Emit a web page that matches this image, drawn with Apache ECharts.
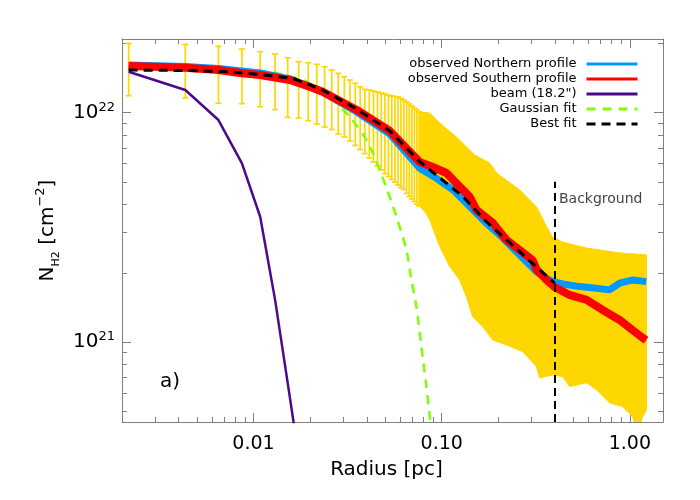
<!DOCTYPE html>
<html><head><meta charset="utf-8">
<script src="https://cdn.jsdelivr.net/npm/echarts@6/dist/echarts.min.js"></script>
<style>html,body{margin:0;padding:0;background:#fff}#c{width:700px;height:500px}</style>
</head><body><div id="c"></div>
<script>
// ---------------- data (radius in pc, column density in cm^-2) ----------------
const xRange = [0.002, 1.5];
const yRange = [4.49e20, 2.095e22];
const xMajorTicks = [0.01, 0.1, 1];
const xTickLabels = ['0.01', '0.10', '1.00'];
const xMinorTicks = [0.003,0.004,0.005,0.006,0.007,0.008,0.009,0.02,0.03,0.04,0.05,0.06,0.07,0.08,0.09,0.2,0.3,0.4,0.5,0.6,0.7,0.8,0.9];
const yMajorTicks = [1e21, 1e22];
const yTickExponents = ['21', '22'];
const yMinorTicks = [5e20,6e20,7e20,8e20,9e20,2e21,3e21,4e21,5e21,6e21,7e21,8e21,9e21,2e22];

// individual error bars (inner radii)
const barRadius = [0.00217,0.00434,0.00651,0.00868,0.01085,0.01302,0.01519,0.01736,0.01953,0.0217,0.02387,0.02604,0.02821,0.03038,0.03255,0.03472,0.03689,0.03906,0.04123,0.0434,0.04557,0.04774,0.04991,0.05208,0.05425,0.05642,0.05859,0.06076,0.06293,0.0651,0.06727,0.06944,0.07161,0.07378,0.07595];
const barHigh = [2.005e22,1.986e22,1.947e22,1.895e22,1.844e22,1.802e22,1.736e22,1.668e22,1.651e22,1.625e22,1.586e22,1.535e22,1.485e22,1.435e22,1.388e22,1.343e22,1.298e22,1.264e22,1.256e22,1.243e22,1.231e22,1.218e22,1.206e22,1.194e22,1.182e22,1.176e22,1.171e22,1.153e22,1.136e22,1.113e22,1.091e22,1.069e22,1.048e22,1.028e22,1.007e22];
const barLow = [1.186e22,1.162e22,1.099e22,1.095e22,1.062e22,1.031e22,9.55e21,9.48e21,9.23e21,8.93e21,8.66e21,8.45e21,8.08e21,7.84e21,7.53e21,7.20e21,6.91e21,6.64e21,6.35e21,6.10e21,5.86e21,5.63e21,5.43e21,5.27e21,5.12e21,4.99e21,4.84e21,4.72e21,4.63e21,4.45e21,4.32e21,4.21e21,4.10e21,4.00e21,3.92e21];

// dense error bars (outer radii) merge into a band
const bandUpR = [0.0760,0.0864,0.0976,0.1197,0.1497,0.1798,0.1959,0.2596,0.3196,0.3611,0.3886,0.4392,0.5888,0.8816,1.2264];
const bandUpN = [1.007e22,9.97e21,9.02e21,7.84e21,6.54e21,6.04e21,5.46e21,4.61e21,3.88e21,3.18e21,2.87e21,2.73e21,2.57e21,2.45e21,2.40e21];
const bandLoR = [0.0760,0.0812,0.0864,0.0918,0.0976,0.1037,0.1103,0.1246,0.1353,0.1461,0.1651,0.1866,0.2206,0.2693,0.3184,0.3315,0.3886,0.4392,0.4785,0.5888,0.6658,0.7803,0.9148,1.0335,1.099,1.168,1.2264];
const bandLoN = [3.92e21,3.71e21,3.41e21,2.98e21,2.61e21,2.36e21,2.135e21,1.867e21,1.579e21,1.293e21,1.169e21,1.023e21,9.73e20,9.10e20,7.83e20,6.99e20,7.20e20,7.08e20,6.41e20,6.65e20,6.20e20,5.44e20,5.24e20,4.74e20,4.0e20,4.74e20,5.07e20];

const northR = [0.00217,0.00434,0.00651,0.01085,0.0156,0.0233,0.0354,0.053,0.0764,0.0937,0.1148,0.1408,0.1727,0.2117,0.2596,0.3184,0.3585,0.390,0.4407,0.5406,0.6632,0.780,0.8816,1.037,1.222];
const northN = [1.614e22,1.589e22,1.558e22,1.489e22,1.402e22,1.231e22,1.007e22,8.07e21,5.73e21,5.18e21,4.61e21,3.90e21,3.30e21,2.84e21,2.40e21,2.03e21,1.90e21,1.836e21,1.794e21,1.747e21,1.719e21,1.690e21,1.807e21,1.868e21,1.836e21];

const southR = [0.00217,0.00434,0.00651,0.00868,0.01085,0.0156,0.0197,0.0233,0.0354,0.053,0.0764,0.0896,0.106,0.125,0.141,0.153,0.187,0.221,0.26,0.304,0.32,0.361,0.398,0.478,0.589,0.716,0.882,1.03,1.17,1.22];
const southN = [1.597e22,1.570e22,1.535e22,1.485e22,1.460e22,1.388e22,1.300e22,1.234e22,1.028e22,8.33e21,6.10e21,5.80e21,5.46e21,4.75e21,4.30e21,3.77e21,3.31e21,2.79e21,2.52e21,2.28e21,2.065e21,1.868e21,1.741e21,1.607e21,1.529e21,1.382e21,1.25e21,1.131e21,1.044e21,1.02e21];

const beamR = [0.00217,0.00434,0.00651,0.00868,0.01085,0.01302,0.01519,0.01736];
const beamN = [1.509e22,1.256e22,9.29e21,6.02e21,3.52e21,1.529e21,6.65e20,3.2e20];

const gaussR = [0.00217,0.00864,0.01325,0.01912,0.02542,0.03246,0.03982,0.04861,0.05745,0.06495,0.06903,0.07339,0.07802,0.08294,0.08742];
const gaussN = [1.558e22,1.543e22,1.485e22,1.365e22,1.171e22,9.58e21,7.61e21,5.20e21,3.52e21,2.52e21,1.868e21,1.425e21,9.54e20,6.39e20,4.36e20];

const bestR = [0.00217,0.00434,0.00721,0.01085,0.01617,0.0233,0.0354,0.053,0.0764,0.1297,0.1734,0.2596,0.398];
const bestN = [1.535e22,1.527e22,1.509e22,1.467e22,1.412e22,1.256e22,1.038e22,8.33e21,6.12e21,4.31e21,3.34e21,2.48e21,1.807e21];

const backgroundR = 0.4;
const backgroundN = [4.49e20, 5.0e21];

const names = ['observed Northern profile','observed Southern profile','beam (18.2")','Gaussian fit','Best fit'];

// ---------------- chart ----------------
const FONT = 'DejaVu Sans';
const GOLD = '#FFD700';
const AX = '#7f7f7f';
const lg = Math.log10;
const pairs = (R, N) => R.map((r, i) => [lg(r), lg(N[i])]);
const findTick = (ticks, v) => ticks.findIndex(t => Math.abs(lg(t) - v) < 1e-6);

const xMin = lg(xRange[0]), xMax = lg(xRange[1]);
const yMin = lg(yRange[0]), yMax = lg(yRange[1]);

function xAxisDef(pos, major, showLine) {
  return {
    type: 'value', position: pos, min: xMin, max: xMax,
    splitLine: {show: false},
    axisLine: {show: showLine, onZero: false, lineStyle: {color: AX, width: 1}},
    axisTick: {show: true, inside: true, length: major ? 9 : 5,
      customValues: (major ? xMajorTicks : xMinorTicks).map(lg),
      lineStyle: {color: AX, width: 1}},
    axisLabel: {show: false}
  };
}
function yAxisDef(pos, major, showLine) {
  return {
    type: 'value', position: pos, min: yMin, max: yMax,
    splitLine: {show: false},
    axisLine: {show: showLine, onZero: false, lineStyle: {color: AX, width: 1}},
    axisTick: {show: true, inside: true, length: major ? 9 : 5,
      customValues: (major ? yMajorTicks : yMinorTicks).map(lg),
      lineStyle: {color: AX, width: 1}},
    axisLabel: {show: false}
  };
}

const xA0 = xAxisDef('bottom', true, true);
xA0.axisLabel = {
  show: true, customValues: xMajorTicks.map(lg), margin: 13,
  fontFamily: FONT, fontSize: 19, color: '#000',
  formatter: (v) => { const i = findTick(xMajorTicks, v); return i >= 0 ? xTickLabels[i] : ''; }
};
xA0.name = 'Radius [pc]';
xA0.nameLocation = 'middle';
xA0.nameGap = 38;
xA0.nameMoveOverlap = false;
xA0.nameTextStyle = {fontFamily: FONT, fontSize: 20, color: '#000', padding: [0, 12, 0, 0]};

const yA0 = yAxisDef('left', true, true);
yA0.axisLabel = {
  show: true, customValues: yMajorTicks.map(lg), margin: 7,
  formatter: (v) => { const i = findTick(yMajorTicks, v); return i >= 0 ? '{b|10}{s|' + yTickExponents[i] + '}' : ''; },
  rich: {
    b: {fontFamily: FONT, fontSize: 20, color: '#000', lineHeight: 24},
    s: {fontFamily: FONT, fontSize: 13, color: '#000', lineHeight: 8, verticalAlign: 'top'}
  }
};
yA0.name = '{n|N}{sub|H2}{n| [cm}{sup|\u22122}{n|]}';
yA0.nameLocation = 'middle';
yA0.nameRotate = 90;
yA0.nameGap = 60;
yA0.nameMoveOverlap = false;
yA0.nameTextStyle = {
  rich: {
    n: {fontFamily: FONT, fontSize: 20, color: '#000', lineHeight: 28},
    sub: {fontFamily: FONT, fontSize: 11, color: '#000', lineHeight: 16, verticalAlign: 'bottom'},
    sup: {fontFamily: FONT, fontSize: 13, color: '#000', lineHeight: 12, verticalAlign: 'top'}
  }
};

const chart = echarts.init(document.getElementById('c'), null, {renderer: 'canvas'});

const option = {
  animation: false,
  backgroundColor: '#fff',
  grid: {left: 122, right: 37, top: 39, bottom: 78, containLabel: false, outerBoundsMode: 'none'},
  xAxis: [xA0, xAxisDef('bottom', false, false), xAxisDef('top', true, true), xAxisDef('top', false, false)],
  yAxis: [yA0, yAxisDef('left', false, false), yAxisDef('right', true, true), yAxisDef('right', false, false)],
  legend: {
    data: names, orient: 'vertical', align: 'right', right: 61, top: 57, padding: 0,
    itemWidth: 51, itemHeight: 14, itemGap: 1, selectedMode: false,
    lineStyle: {width: 3},
    itemStyle: {color: 'transparent', borderColor: 'transparent', borderWidth: 0, opacity: 0},
    textStyle: {fontFamily: FONT, fontSize: 13, color: '#000', lineHeight: 14, padding: [0, 5, 0, 0]}
  },
  series: [
    {
      type: 'custom', name: 'band', silent: true, clip: true, z: 1,
      data: [[lg(bandUpR[0]), lg(bandUpN[0])]],
      renderItem: (params, api) => {
        const pts = [];
        bandUpR.forEach((r, i) => pts.push(api.coord([lg(r), lg(bandUpN[i])])));
        for (let i = bandLoR.length - 1; i >= 0; i--) pts.push(api.coord([lg(bandLoR[i]), lg(bandLoN[i])]));
        return {type: 'polygon', shape: {points: pts}, style: {fill: GOLD, stroke: GOLD, lineWidth: 1}};
      }
    },
    {
      type: 'custom', name: 'errbars', silent: true, clip: true, z: 1,
      data: barRadius.map((r, i) => [lg(r), lg(barLow[i]), lg(barHigh[i])]),
      encode: {x: 0, y: [1, 2]},
      renderItem: (params, api) => {
        const x = api.value(0);
        const lo = api.coord([x, api.value(1)]);
        const hi = api.coord([x, api.value(2)]);
        const w = 3, st = {stroke: GOLD, lineWidth: 1.7};
        return {type: 'group', children: [
          {type: 'line', shape: {x1: lo[0], y1: lo[1], x2: hi[0], y2: hi[1]}, style: st},
          {type: 'line', shape: {x1: lo[0] - w, y1: lo[1], x2: lo[0] + w, y2: lo[1]}, style: st},
          {type: 'line', shape: {x1: hi[0] - w, y1: hi[1], x2: hi[0] + w, y2: hi[1]}, style: st}
        ]};
      }
    },
    {
      type: 'line', name: names[2], data: pairs(beamR, beamN), symbol: 'none', z: 3,
      lineStyle: {color: '#4B0A8C', width: 2.5}, itemStyle: {color: '#4B0A8C'}
    },
    {
      type: 'line', name: names[3], data: pairs(gaussR, gaussN), symbol: 'none', z: 3, smooth: 0.3,
      lineStyle: {color: '#7FFF00', width: 2.5, type: [9, 7]}, itemStyle: {color: '#7FFF00'}
    },
    {
      type: 'line', name: names[0], data: pairs(northR, northN), symbol: 'none', z: 4,
      lineStyle: {color: '#0099FF', width: 7}, itemStyle: {color: '#0099FF'}
    },
    {
      type: 'line', name: names[1], data: pairs(southR, southN), symbol: 'none', z: 5,
      lineStyle: {color: '#FF0000', width: 8}, itemStyle: {color: '#FF0000'}
    },
    {
      type: 'line', name: names[4], data: pairs(bestR, bestN), symbol: 'none', z: 6,
      lineStyle: {color: '#000', width: 3, type: [9, 6]}, itemStyle: {color: '#000'}
    },
    {
      type: 'line', name: 'background', data: backgroundN.map(n => [lg(backgroundR), lg(n)]), symbol: 'none', z: 6,
      lineStyle: {color: '#000', width: 2, type: [8, 5]}, itemStyle: {color: '#000'}
    }
  ]
};
chart.setOption(option);

const bp = chart.convertToPixel({xAxisIndex: 0, yAxisIndex: 0}, [lg(backgroundR), lg(backgroundN[1])]);
chart.setOption({
  graphic: [
    {type: 'text', x: bp[0] + 4, y: bp[1] + 18, z: 10,
     style: {text: 'Background', fontFamily: FONT, fontSize: 14, fill: '#444', verticalAlign: 'middle', align: 'left'}},
    {type: 'text', x: 160, y: 382, z: 10,
     style: {text: 'a)', fontFamily: FONT, fontSize: 20, fill: '#000', verticalAlign: 'middle', align: 'left'}}
  ]
});
</script></body></html>
